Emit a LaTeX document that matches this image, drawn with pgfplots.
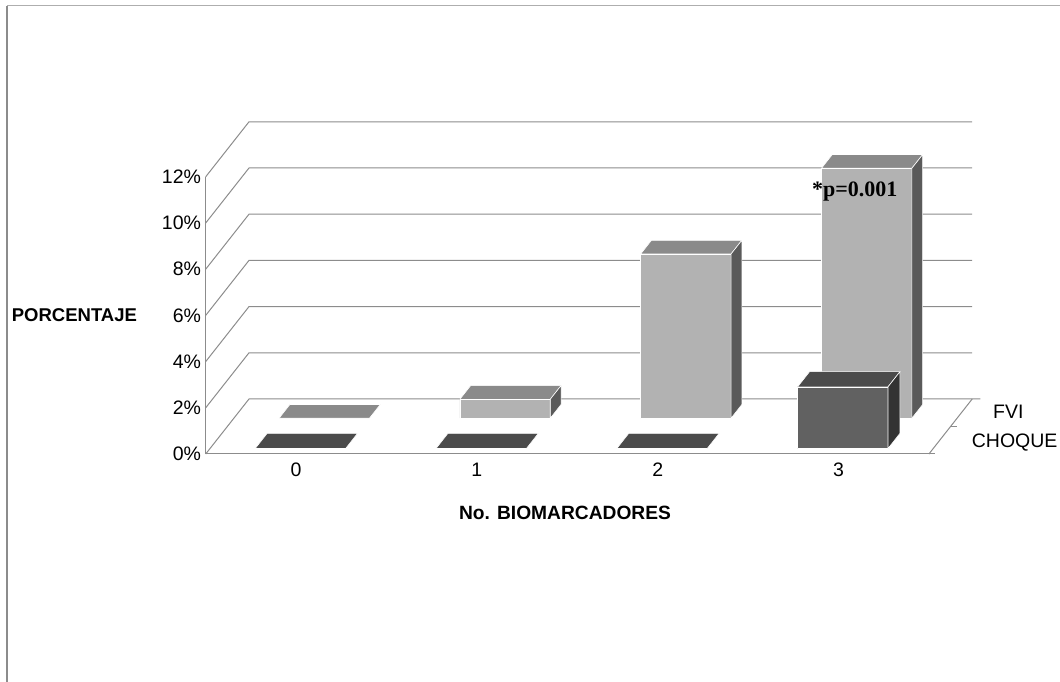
\documentclass[border=0pt]{standalone}
\usepackage{pgfplots}
\pgfplotsset{compat=1.18}
\usepackage{fontspec}
\setmainfont{Liberation Sans}
\newfontfamily\timesbold{Liberation Serif}

\definecolor{gridc}{HTML}{8C8C8C}
\definecolor{framec}{HTML}{8C8C8C}
\definecolor{fviF}{HTML}{B2B2B2}
\definecolor{fviT}{HTML}{8A8A8A}
\definecolor{fviS}{HTML}{5A5A5A}
\definecolor{chqF}{HTML}{616161}
\definecolor{chqT}{HTML}{4B4B4B}
\definecolor{chqS}{HTML}{333333}

% oblique depth: one depth unit moves this far in x (categories) and y (percent)
\def\kx{0.11975}
\def\ky{1.19048}

\newcommand\lbl{\fontsize{19.5}{22}\selectfont}

% one 3-D bar: centre, front depth, back depth, value, front/top/side colours
\newcommand\barbox[7]{%
  \pgfmathsetmacro\bxL{#1-0.25}\pgfmathsetmacro\bxR{#1+0.25}%
  \pgfmathsetmacro\bxLf{\bxL+\kx*#2}\pgfmathsetmacro\bxRf{\bxR+\kx*#2}%
  \pgfmathsetmacro\bxLb{\bxL+\kx*#3}\pgfmathsetmacro\bxRb{\bxR+\kx*#3}%
  \pgfmathsetmacro\byF{\ky*#2}\pgfmathsetmacro\byB{\ky*#3}%
  \pgfmathsetmacro\byFt{\byF+#4}\pgfmathsetmacro\byBt{\byB+#4}%
  \edef\tmp{\noexpand\addplot[fill=#6, draw=white, line width=0.6pt]
    coordinates {(\bxLf,\byFt) (\bxRf,\byFt) (\bxRb,\byBt) (\bxLb,\byBt) (\bxLf,\byFt)};}\tmp
  \ifdim #4pt>0pt
    \edef\tmp{\noexpand\addplot[fill=#5, draw=white, line width=0.6pt]
      coordinates {(\bxLf,\byF) (\bxRf,\byF) (\bxRf,\byFt) (\bxLf,\byFt) (\bxLf,\byF)};}\tmp
    \edef\tmp{\noexpand\addplot[fill=#7, draw=white, line width=0.6pt]
      coordinates {(\bxRf,\byF) (\bxRb,\byB) (\bxRb,\byBt) (\bxRf,\byFt) (\bxRf,\byF)};}\tmp
  \fi
}

% gridline on the left wall and the back wall at one percentage
\newcommand\wallgrid[1]{%
  \pgfmathsetmacro\gY{#1+2*\ky}\pgfmathsetmacro\gX{2*\kx}\pgfmathsetmacro\gXr{4+2*\kx}%
  \edef\tmp{\noexpand\addplot[gridc, line width=1pt]
    coordinates {(0,#1) (\gX,\gY) (\gXr,\gY)};}\tmp
}

\begin{document}
\begin{tikzpicture}
\useasboundingbox (0,0) rectangle (1060pt,682pt);
\draw[framec, line width=2pt] (7pt,0pt) -- (7pt,676pt);
\draw[framec!70, line width=1pt] (7pt,676pt) -- (1060pt,676pt);

\begin{axis}[
  at={(205.7pt,228pt)}, anchor=origin,
  x=180.8pt, y=23.1pt,
  xmin=0, xmax=4.3, ymin=0, ymax=14.5,
  clip=false,
  axis line style={draw=none},
  major tick length=0pt,
  xtick={0.5,1.5,2.5,3.5}, xticklabels={0,1,2,3},
  ytick={0,2,4,6,8,10,12},
  yticklabels={0\%,2\%,4\%,6\%,8\%,10\%,12\%},
  ticklabel style={font=\lbl, inner sep=0pt},
  xticklabel style={anchor=north, yshift=-9pt},
  yticklabel style={anchor=east, xshift=-4.5pt},
]
% walls
\pgfplotsinvokeforeach{0,2,4,6,8,10,12}{\wallgrid{#1}}
% front axes, floor edge and depth ticks
\addplot[gridc, line width=1pt] coordinates {(0,12) (0,0) (4.035,0)};
\addplot[gridc, line width=1pt] coordinates {(4,0) (4.2395,2.38096) (4.284,2.38096)};
\addplot[gridc, line width=1pt] coordinates {(4.11975,1.19048) (4.155,1.19048)};

% FVI (back row)
\barbox{0.5}{1.3}{1.8}{0}{fviF}{fviT}{fviS}
\barbox{1.5}{1.3}{1.8}{0.82}{fviF}{fviT}{fviS}
\barbox{2.5}{1.3}{1.8}{7.11}{fviF}{fviT}{fviS}
\barbox{3.5}{1.3}{1.8}{10.82}{fviF}{fviT}{fviS}
% CHOQUE (front row)
\barbox{0.5}{0.2}{0.75}{0}{chqF}{chqT}{chqS}
\barbox{1.5}{0.2}{0.75}{0}{chqF}{chqT}{chqS}
\barbox{2.5}{0.2}{0.75}{0}{chqF}{chqT}{chqS}
\barbox{3.5}{0.2}{0.75}{2.67}{chqF}{chqT}{chqS}
\end{axis}

\node[anchor=west, inner sep=0pt, font=\bfseries\fontsize{18.5}{20}\selectfont]
  at (11.7pt,366.5pt) {PORCENTAJE};
\node[anchor=center, inner sep=0pt, font=\bfseries\fontsize{19.2}{21}\selectfont]
  at (565pt,169.5pt) {No. BIOMARCADORES};
\node[anchor=base west, inner sep=0pt, font=\lbl] at (993pt,263.7pt) {FVI};
\node[anchor=base west, inner sep=0pt, font=\lbl] at (971.7pt,234.3pt) {CHOQUE};
\node[anchor=base west, inner sep=0pt, font=\timesbold\bfseries\fontsize{22}{24}\selectfont]
  at (812pt,485pt) {*p=0.001};
\end{tikzpicture}
\end{document}
